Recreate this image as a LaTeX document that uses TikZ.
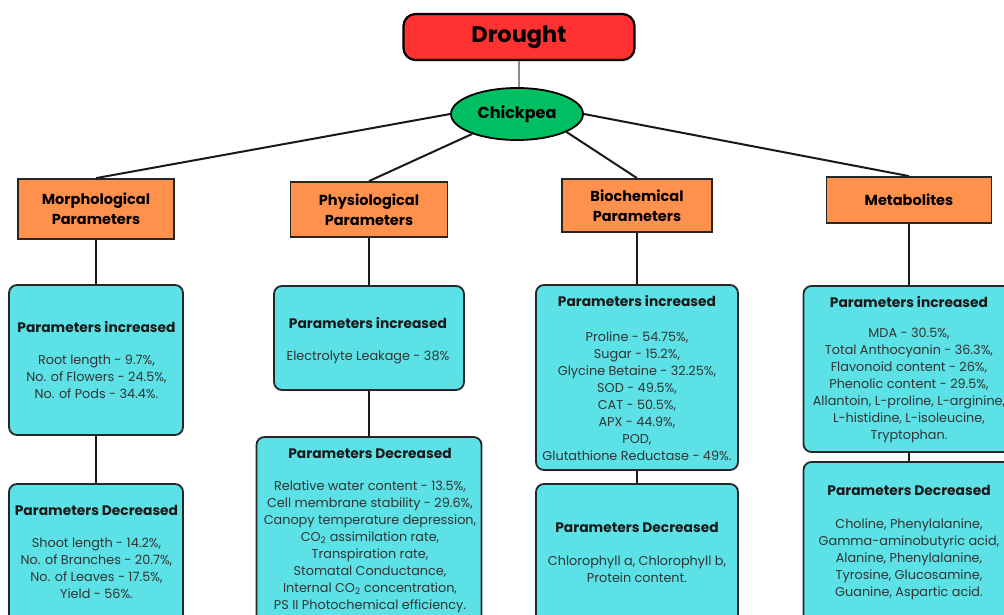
\documentclass[tikz,border=0pt]{standalone}
\usepackage{fontspec}
\setmainfont{Poppins}
\usetikzlibrary{shapes.geometric}
\definecolor{dred}{HTML}{FF3131}
\definecolor{dgreen}{HTML}{00BF63}
\definecolor{dorange}{HTML}{FF914D}
\definecolor{dcyan}{HTML}{5CE1E6}
\begin{document}
\begin{tikzpicture}[x=1pt,y=-1pt,
  sized/.style 2 args={minimum width=#1, minimum height=#2, inner sep=0pt},
  rootbox/.style={draw=black, line width=2.2pt, fill=dred, rounded corners=12pt, font=\bfseries\fontsize{22.5}{26}\selectfont},
  cropnode/.style={ellipse, draw=black, line width=1.8pt, fill=dgreen, font=\bfseries\fontsize{16}{19}\selectfont},
  catbox/.style={draw=black!85, line width=1.8pt, fill=dorange, align=center, font=\bfseries\fontsize{14.5}{20}\selectfont},
  parbox/.style={draw=black!85, line width=1.8pt, fill=dcyan, rounded corners=8pt},
  ptitle/.style={font=\bfseries\fontsize{13.8}{16}\selectfont, text=black!90, inner sep=0pt},
  pitems/.style={font=\fontsize{12.8}{17}\selectfont, text=black!80, align=center, inner sep=0pt},
  link/.style={draw=black!90, line width=2pt},
  glink/.style={draw=black!45, line width=1.5pt}]
\clip (0,0) rectangle (1004,614);
\fill[white] (0,0) rectangle (1004,614);

% top
\node[rootbox, sized={231pt}{46pt}] (drought) at (519,37) {Drought};
\node[cropnode, sized={132pt}{52pt}] (chick) at (517,114) {Chickpea};

% categories
\node[catbox, sized={156pt}{60pt}] (morph) at (96,209) {Morphological\\Parameters};
\node[catbox, sized={157pt}{55pt}] (phys) at (369,209.5) {Physiological\\Parameters};
\node[catbox, sized={150pt}{53pt}] (bio) at (637,205.5) {Biochemical\\Parameters};
\node[catbox, sized={165pt}{46pt}] (meta) at (909,200) {Metabolites};

% parameter boxes
\node[parbox, sized={174pt}{150pt}] (c1i) at (96,360) {};
\node[parbox, sized={174pt}{146pt}] (c1d) at (96,557) {};
\node[parbox, sized={190pt}{104pt}] (c2i) at (369,338) {};
\node[parbox, sized={225pt}{193pt}] (c2d) at (369,533.5) {};
\node[parbox, sized={202pt}{185pt}] (c3i) at (637,377.5) {};
\node[parbox, sized={202pt}{146pt}] (c3d) at (637,557) {};
\node[parbox, sized={211pt}{166pt}] (c4i) at (909,369) {};
\node[parbox, sized={211pt}{168pt}] (c4d) at (909,546) {};

% connectors
\draw[glink] (drought.south) -- (drought.south |- chick.north);
\draw[link] (chick.west) -- (morph.north);
\draw[link] (chick.204) -- (phys.north);
\draw[link] (chick.340) -- (bio.north);
\draw[link] (chick.east) -- (meta.north);
\draw[link] (morph.south) -- (c1i.north);
\draw[link] (c1i.south) -- (c1d.north);
\draw[link] (phys.south) -- (c2i.north);
\draw[link] (c2i.south) -- (c2d.north);
\draw[link] (bio.south) -- (c3i.north);
\draw[link] (c3i.south) -- (c3d.north);
\draw[link] (meta.south) -- (c4i.north);
\draw[link] (c4i.south) -- (c4d.north);

% column 1 texts
\node[ptitle] (t1i) at (96.5,327) {Parameters increased};
\node[pitems] (l1i) at (96.5,377) {Root length - 9.7\%,\\No. of Flowers - 24.5\%,\\No. of Pods - 34.4\%.};
\node[ptitle] (t1d) at (96.5,510) {Parameters Decreased};
\node[pitems] (l1d) at (96.5,568.5) {Shoot length - 14.2\%,\\No. of Branches - 20.7\%,\\No. of Leaves - 17.5\%,\\Yield - 56\%.};

% column 2 texts
\node[ptitle] (t2i) at (368,323) {Parameters increased};
\node[pitems] (l2i) at (368,357) {Electrolyte Leakage - 38\%};
\node[ptitle] (t2d) at (370,453) {Parameters Decreased};
\node[pitems] (l2d) at (370,546.5) {Relative water content - 13.5\%,\\Cell membrane stability - 29.6\%,\\Canopy temperature depression,\\CO\textsubscript{2} assimilation rate,\\Transpiration rate,\\Stomatal Conductance,\\Internal CO\textsubscript{2} concentration,\\PS II Photochemical efficiency.};

% column 3 texts
\node[ptitle] (t3i) at (637,301) {Parameters increased};
\node[pitems] (l3i) at (637,396) {Proline - 54.75\%,\\Sugar - 15.2\%,\\Glycine Betaine - 32.25\%,\\SOD - 49.5\%,\\CAT - 50.5\%,\\APX - 44.9\%,\\POD,\\Glutathione Reductase - 49\%.};
\node[ptitle] (t3d) at (637,527) {Parameters Decreased};
\node[pitems] (l3d) at (637,569.5) {Chlorophyll a, Chlorophyll b,\\Protein content.};

% column 4 texts
\node[ptitle] (t4i) at (909,302) {Parameters increased};
\node[pitems] (l4i) at (909,385.5) {MDA - 30.5\%,\\Total Anthocyanin - 36.3\%,\\Flavonoid content - 26\%,\\Phenolic content - 29.5\%,\\Allantoin, L-proline, L-arginine,\\L-histidine, L-isoleucine,\\Tryptophan.};
\node[ptitle] (t4d) at (909,490) {Parameters Decreased};
\node[pitems] (l4d) at (909,559) {Choline, Phenylalanine,\\Gamma-aminobutyric acid,\\Alanine, Phenylalanine,\\Tyrosine, Glucosamine,\\Guanine, Aspartic acid.};
\end{tikzpicture}
\end{document}
